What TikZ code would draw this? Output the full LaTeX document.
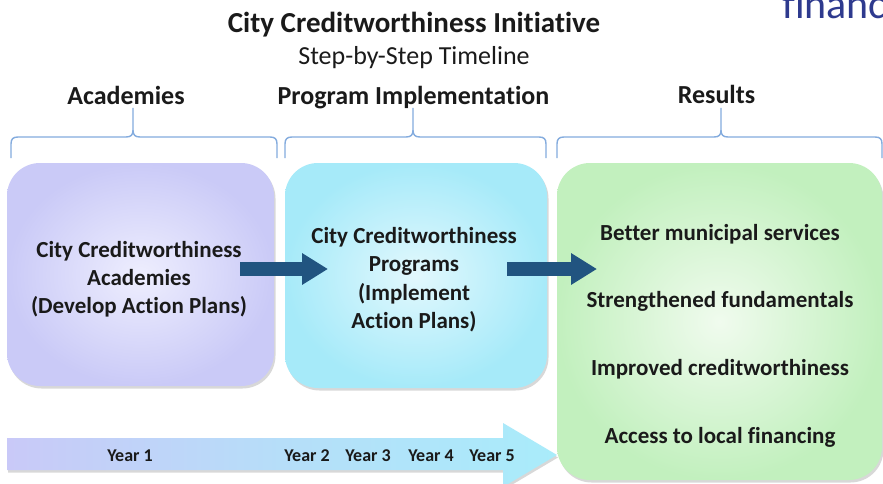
\documentclass[tikz,border=0pt]{standalone}
\usepackage{fontspec}
\setmainfont{Carlito}[Ligatures=NoCommon]
\usetikzlibrary{arrows.meta,shadows}
\definecolor{txt}{HTML}{1A1A1A}
\definecolor{bracec}{HTML}{84ACDE}
\definecolor{arrowc}{HTML}{215480}
\definecolor{lavout}{HTML}{CACAF7}
\definecolor{lavin}{HTML}{EEEEFE}
\definecolor{cyout}{HTML}{A6EAF9}
\definecolor{cyin}{HTML}{E2F8FD}
\definecolor{grout}{HTML}{C2F0BE}
\definecolor{grin}{HTML}{F0FBEE}
\definecolor{barl}{HTML}{C9C9F8}
\definecolor{barr}{HTML}{A9ECFA}
\definecolor{finc}{HTML}{2E3A8E}
\tikzset{
  titletxt/.style={font=\bfseries\fontsize{29}{34}\selectfont, text=txt, inner sep=0, anchor=base},
  subtxt/.style={font=\fontsize{26}{30}\selectfont, text=txt, inner sep=0, anchor=base},
  headtxt/.style={font=\bfseries\fontsize{26}{30}\selectfont, text=txt, inner sep=0, anchor=base},
  boxtxt/.style={font=\bfseries\fontsize{23}{28}\selectfont, text=txt, inner sep=0, anchor=base},
  yeartxt/.style={font=\bfseries\fontsize{18}{22}\selectfont, text=txt, inner sep=0, anchor=base},
  bigbox/.style={rounded corners=33pt, inner sep=0, draw=none,
    drop shadow={shadow xshift=1.5pt, shadow yshift=-2.5pt, opacity=0.3}},
  bracepath/.style={draw=bracec, line width=1.4pt},
  flowarrow/.style={draw=arrowc, line width=14pt, -{Triangle[width=30pt,length=26pt]}},
}
\newcommand{\mybrace}[3]{%
  \draw[bracepath] (#1,158) -- (#1,144) .. controls (#1,139) and (#1+2,137) .. (#1+7,137)
    -- (#2-7,137) .. controls (#2-2,137) and (#2,135) .. (#2,130) -- (#2,108)
    -- (#2,130) .. controls (#2,135) and (#2+2,137) .. (#2+7,137)
    -- (#3-7,137) .. controls (#3-2,137) and (#3,139) .. (#3,144) -- (#3,158);}
\begin{document}
\begin{tikzpicture}[x=1pt,y=-1pt]
\useasboundingbox (0,0) rectangle (883,484);
\fill[white] (0,0) rectangle (883,484);

% titles
\node[titletxt] (title) at (414,33) {City Creditworthiness Initiative};
\node[subtxt] (subtitle) at (414,65) {Step-by-Step Timeline};
\node[anchor=base west, inner sep=0, font=\fontsize{42}{50}\selectfont, text=finc] (fin) at (782,19) {financ};

% headers
\node[headtxt] (h1) at (126,105) {Academies};
\node[headtxt] (h2) at (413.5,105) {Program Implementation};
\node[headtxt] (h3) at (716.5,104) {Results};

% braces
\mybrace{11}{133}{277}
\mybrace{285}{413}{546}
\mybrace{557}{721}{882}

% bottom timeline arrow
\shade[left color=barl, right color=barr, middle color=barr!60!barl,
  drop shadow={shadow xshift=1pt, shadow yshift=-2.5pt, opacity=0.3}]
  (7,438) -- (503,438) -- (503,423) -- (557,455) -- (503,487) -- (503,470) -- (7,470) -- cycle;
\node[yeartxt] (y1) at (130,461) {Year 1};
\node[yeartxt] (y2) at (307,461) {Year 2};
\node[yeartxt] (y3) at (368,461) {Year 3};
\node[yeartxt] (y4) at (431,461) {Year 4};
\node[yeartxt] (y5) at (492,461) {Year 5};

% boxes
\node[bigbox, minimum width=267pt, minimum height=223pt, inner color=lavin, outer color=lavout] (b1) at (140.5,274.5) {};
\node[bigbox, minimum width=262pt, minimum height=225pt, inner color=cyin, outer color=cyout] (b2) at (416,275.5) {};
\node[bigbox, minimum width=325pt, minimum height=317pt, inner color=grin, outer color=grout] (b3) at (719.5,321.5) {};

% box texts
\node[boxtxt] (t1a) at (139,257) {City Creditworthiness};
\node[boxtxt] (t1b) at (139,285) {Academies};
\node[boxtxt] (t1c) at (139,313) {(Develop Action Plans)};

\node[boxtxt] (t2a) at (414,243) {City Creditworthiness};
\node[boxtxt] (t2b) at (414,271) {Programs};
\node[boxtxt] (t2c) at (414,300) {(Implement};
\node[boxtxt] (t2d) at (414,328) {Action Plans)};

\node[boxtxt] (t3a) at (720,240) {Better municipal services};
\node[boxtxt] (t3b) at (720,307) {Strengthened fundamentals};
\node[boxtxt] (t3c) at (720,375) {Improved creditworthiness};
\node[boxtxt] (t3d) at (720,443) {Access to local financing};

% flow arrows
\coordinate (a1s) at (240,269);
\coordinate (a1e) at (328,269);
\coordinate (a2s) at (507,269);
\coordinate (a2e) at (597,269);
\draw[flowarrow] (a1s) -- (a1e);
\draw[flowarrow] (a2s) -- (a2e);
\end{tikzpicture}
\end{document}
